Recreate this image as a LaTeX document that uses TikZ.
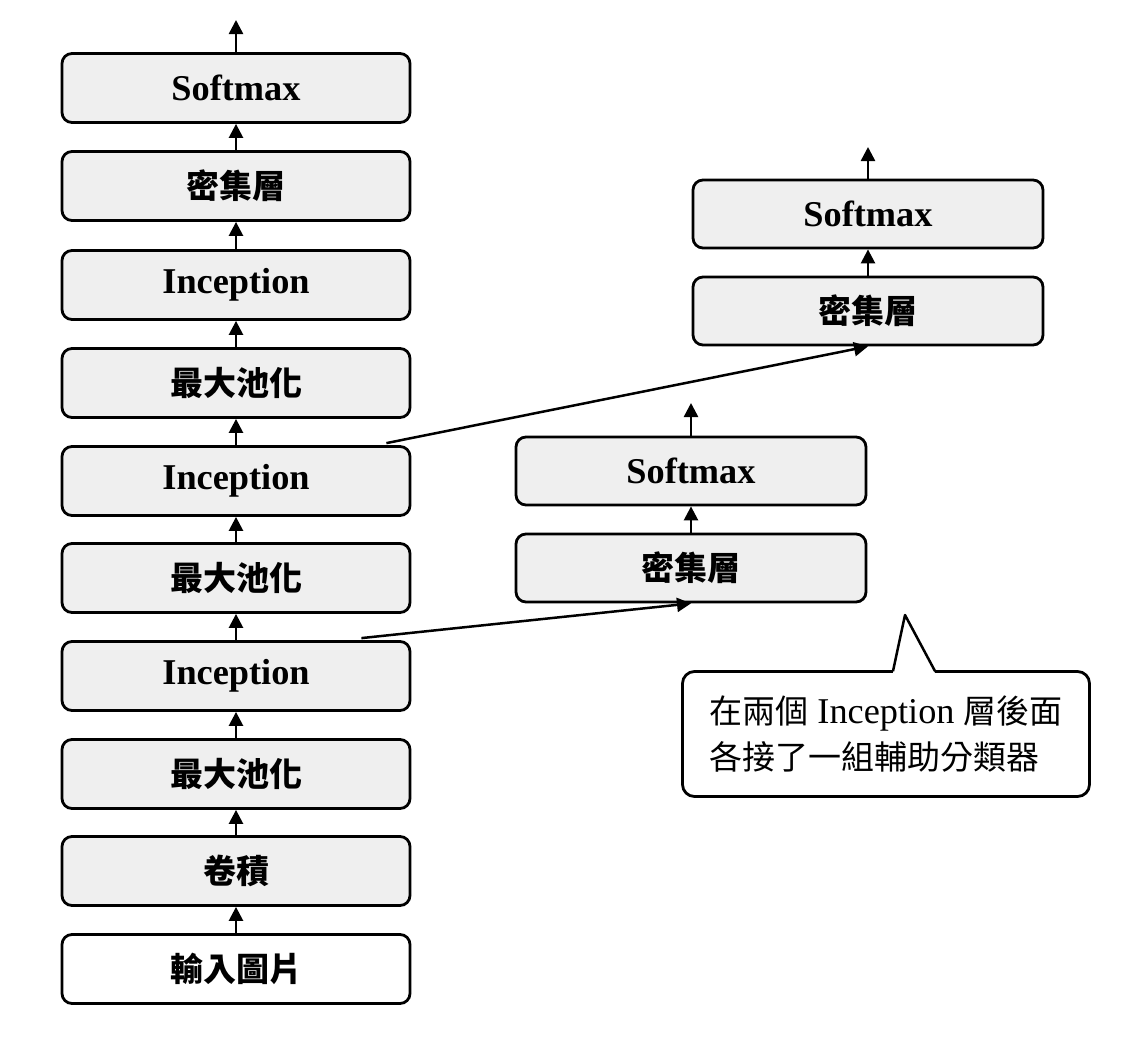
\documentclass[tikz,border=0pt]{standalone}
\usepackage{fontspec}
\setmainfont{Liberation Serif}[Scale=1.1]
\newfontfamily\cjk{Noto Sans CJK TC}
\usetikzlibrary{arrows.meta, positioning}
\definecolor{boxgray}{HTML}{EFEFEF}

\begin{document}
\begin{tikzpicture}[
  x=1pt, y=-1pt,
  font=\fontsize{33}{46}\selectfont,
  layer/.style={draw, line width=2.8pt, rounded corners=10pt, align=center, minimum width=348pt, minimum height=69pt, fill=boxgray, inner sep=0pt, font=\fontsize{33}{40}\selectfont\bfseries},
  input/.style={layer, fill=white},
  note/.style={draw, line width=2.8pt, rounded corners=12pt, align=left, minimum width=407pt, minimum height=125pt, fill=white},
  arr/.style={-{Triangle[length=14pt, width=14pt]}, line width=2.5pt}
]
\useasboundingbox (0,0) rectangle (1141,1039);

% main network
\node[input] (img) at (236,969) {\cjk 輸入圖片};
\node[layer] (conv) at (236,871) {\cjk 卷積};
\node[layer] (pool1) at (236,774) {\cjk 最大池化};
\node[layer] (inc1) at (236,676) {Inception};
\node[layer] (pool2) at (236,578) {\cjk 最大池化};
\node[layer] (inc2) at (236,481) {Inception};
\node[layer] (pool3) at (236,383) {\cjk 最大池化};
\node[layer] (inc3) at (236,285) {Inception};
\node[layer] (dense) at (236,186) {\cjk 密集層};
\node[layer] (soft) at (236,88) {Softmax};
\coordinate (out) at (236,20);

% auxiliary classifiers
\node[layer, minimum width=350pt, minimum height=68pt] (auxdense1) at (691,568) {\cjk 密集層};
\node[layer, minimum width=350pt, minimum height=68pt] (auxsoft1) at (691,471) {Softmax};
\coordinate (auxout1) at (691,403);
\node[layer, minimum width=350pt, minimum height=68pt] (auxdense2) at (868,311) {\cjk 密集層};
\node[layer, minimum width=350pt, minimum height=68pt] (auxsoft2) at (868,214) {Softmax};
\coordinate (auxout2) at (868,147);

\draw[arr] (img) -- (conv);
\draw[arr] (conv) -- (pool1);
\draw[arr] (pool1) -- (inc1);
\draw[arr] (inc1) -- (pool2);
\draw[arr] (pool2) -- (inc2);
\draw[arr] (inc2) -- (pool3);
\draw[arr] (pool3) -- (inc3);
\draw[arr] (inc3) -- (dense);
\draw[arr] (dense) -- (soft);
\draw[arr] (soft) -- (out);

\draw[arr] (auxdense1) -- (auxsoft1);
\draw[arr] (auxsoft1) -- (auxout1);
\draw[arr] (auxdense2) -- (auxsoft2);
\draw[arr] (auxsoft2) -- (auxout2);

\draw[arr] ([xshift=-50pt,yshift=2pt]inc1.north east) -- (auxdense1.south);
\draw[arr] ([xshift=-25pt,yshift=2pt]inc2.north east) -- (auxdense2.south);

% callout
\node[note] (callout) at (886,734) {{\cjk 在兩個} Inception {\cjk 層後面}\\{\cjk 各接了一組輔助分類器}};
\coordinate (tip) at (905,615);
\fill[white] ([xshift=7pt,yshift=-3pt]callout.north) -- (tip) -- ([xshift=49pt,yshift=-3pt]callout.north) -- cycle;
\draw[line width=2.5pt, line join=round] ([xshift=7pt,yshift=-1pt]callout.north) -- (tip) -- ([xshift=49pt,yshift=-1pt]callout.north);
\end{tikzpicture}
\end{document}
